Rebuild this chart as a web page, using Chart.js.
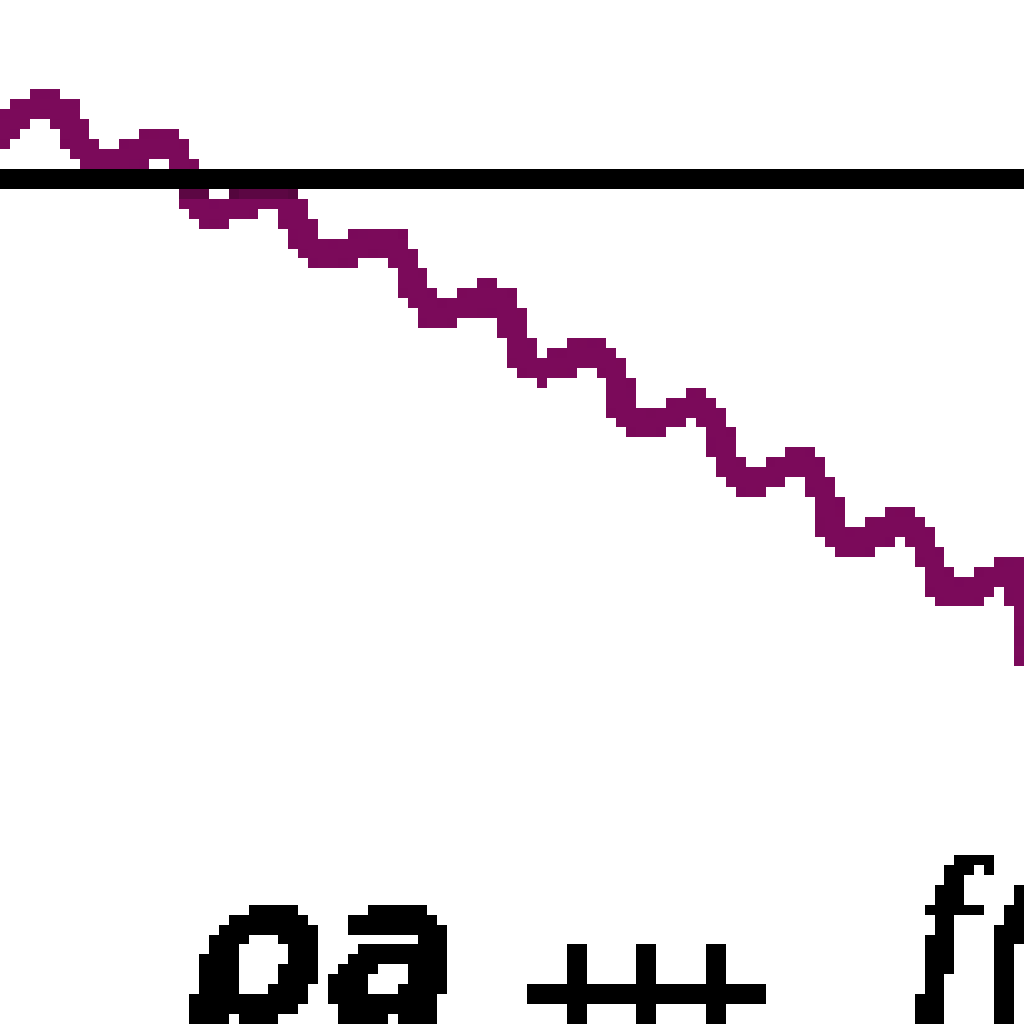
<!DOCTYPE html>
<html>
<head>
<meta charset="utf-8">
<script src="https://cdn.jsdelivr.net/npm/chart.js@4/dist/chart.umd.min.js"></script>
<style>
  html, body { margin: 0; padding: 0; background: #fff; overflow: hidden; }
  #wrap { width: 1024px; height: 1024px; position: relative; }
  /* low-res canvas blown up with hard edges */
  #chart { image-rendering: pixelated; filter: url(#crisp); }
</style>
</head>
<body>
<svg width="0" height="0" style="position:absolute">
  <filter id="crisp" color-interpolation-filters="sRGB">
    <feComponentTransfer>
      <feFuncA type="discrete" tableValues="0 1"/>
    </feComponentTransfer>
  </filter>
</svg>
<div id="wrap"><canvas id="chart"></canvas></div>
<script>
// positions along the x axis (0-100) and series values (0-100)
const xValues = [-1.5, 0, 2.0, 4.4, 6.3, 8.0, 10.0, 12.7, 15.6, 17.4, 19.0, 21.0, 23.9, 26.9, 28.5,
  30.3, 32.0, 34.7, 37.3, 39.1, 40.5, 42.5, 45.4, 47.7, 49.3, 50.8, 52.7, 55.7, 58.4, 60.0,
  61.3, 63.3, 65.9, 67.9, 69.7, 71.3, 73.2, 76.2, 78.6, 80.3, 81.8, 84.0, 86.4, 88.7, 90.3,
  92.1, 94.2, 96.7, 98.8, 99.8, 101.0];
const seriesValues = [85.4, 87.0, 88.8, 89.9, 88.8, 85.4, 84.2, 84.9, 86.0, 84.9, 80.7, 79.0, 80.3, 81.2, 79.5,
  76.1, 75.0, 75.8, 76.8, 75.4, 71.7, 69.1, 70.1, 71.2, 70.2, 65.8, 63.9, 65.0, 65.6, 63.4,
  59.2, 58.5, 59.7, 60.6, 59.0, 54.3, 52.7, 54.3, 54.9, 52.1, 47.5, 47.0, 48.4, 49.0, 46.8,
  42.6, 42.0, 43.4, 44.2, 42.0, 35.0];
const referenceLevel = 82.4;
const labelParts = ["ρa", "+++", "f("];

const series = xValues.map((x, i) => ({ x: x, y: seriesValues[i] }));

// bottom label, cut off by the lower edge
const bottomText = {
  id: "bottomText",
  afterDraw(chart) {
    const c = chart.ctx;
    c.save();
    c.fillStyle = "#000";
    c.textBaseline = "alphabetic";
    c.textAlign = "left";
    c.font = 'bold oblique 205px "DejaVu Sans"';
    c.fillText(labelParts[0], 180, 1024);
    c.font = 'bold 170px "DejaVu Sans"';
    c.letterSpacing = "-75px";
    c.fillText(labelParts[1], 508, 1051);
    c.letterSpacing = "0px";
    c.font = 'bold italic 205px "Liberation Serif"';
    c.fillText(labelParts[2], 910, 1000);
    c.restore();
  }
};

new Chart(document.getElementById("chart"), {
  type: "line",
  data: {
    datasets: [
      {
        data: [{ x: -5, y: referenceLevel }, { x: 105, y: referenceLevel }],
        borderColor: "#000",
        borderWidth: 20,
        pointRadius: 0,
      },
      {
        data: series,
        borderColor: "#7b0a5a",
        borderWidth: 29,
        pointRadius: 0,
        tension: 0.2,
      },
    ],
  },
  options: {
    responsive: true,
    maintainAspectRatio: false,
    animation: false,
    devicePixelRatio: 103 / 1024,
    layout: { padding: 0 },
    plugins: { legend: { display: false }, tooltip: { enabled: false } },
    scales: {
      x: { type: "linear", min: 0, max: 100, display: false },
      y: { type: "linear", min: 0, max: 100, display: false },
    },
  },
  plugins: [bottomText],
});
</script>
</body>
</html>
